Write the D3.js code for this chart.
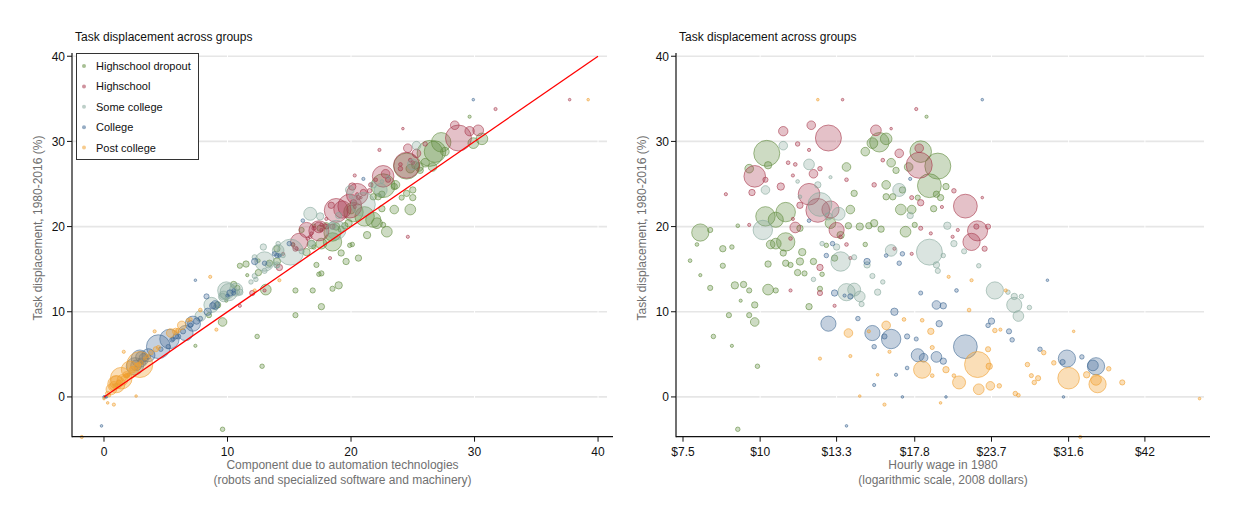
<!DOCTYPE html>
<html>
<head>
<meta charset="utf-8">
<script src="https://cdn.jsdelivr.net/npm/d3@7"></script>
<style>
  body { margin: 0; background: #fff; }
  svg { display: block; }
  text { font-family: "Liberation Sans", Arial, Helvetica, sans-serif; }
</style>
</head>
<body>
<svg id="chart" width="1233" height="514"></svg>
<script>
// ---- data -------------------------------------------------------------
const groupNames = ["Highschool dropout", "Highschool", "Some college", "College", "Post college"];
const groupColors = ["#5f8a3c", "#a8384c", "#86a89b", "#3f6894", "#f0a030"];

const yTicks = [0, 10, 20, 30, 40];
const autoTicks = [0, 10, 20, 30, 40];
const wageTicks = [7.5, 10, 13.3, 17.8, 23.7, 31.6, 42];
const wageTickLabels = ["$7.5", "$10", "$13.3", "$17.8", "$23.7", "$31.6", "$42"];

// rows: [task displacement 1980-2016 (%), automation component, 1980 hourly wage ($2008), employment weight]
const dropout = [
  [28.6, 26.4, 10.25, 100], [29.9, 27.3, 15.6, 56], [30.3, 30.6, 16.0, 20], [29.8, 29.9, 15.2, 17],
  [28.8, 26.8, 18.2, 69], [27.1, 24.5, 19.4, 100], [24.8, 22.6, 18.8, 84], [21.2, 21.1, 10.2, 56],
  [21.7, 20.2, 11.0, 56], [20.8, 21.8, 10.6, 34], [19.3, 18.5, 8.0, 44], [18.2, 18.5, 11.0, 50],
  [18.0, 17.6, 10.6, 17], [12.6, 13.1, 10.3, 17], [8.8, 9.6, 9.8, 11], [27.2, 25.2, 10.3, 8],
  [26.8, 24.8, 9.6, 11], [27.0, 25.5, 13.8, 11], [28.8, 27.6, 14.8, 11], [27.5, 26.0, 16.3, 11],
  [24.9, 23.6, 16.0, 11], [23.5, 22.2, 16.0, 6], [23.5, 21.8, 16.4, 6], [22.0, 20.0, 14.0, 11],
  [20.0, 18.8, 14.5, 8], [20.1, 19.5, 15.0, 6], [20.1, 18.0, 13.9, 6], [17.0, 16.4, 11.7, 8],
  [15.9, 14.0, 11.6, 8], [14.6, 12.5, 11.5, 6], [15.7, 13.4, 11.0, 6], [15.6, 11.5, 10.3, 6],
  [17.4, 14.0, 8.7, 6], [19.6, 16.0, 8.3, 4], [13.2, 10.5, 9.4, 6], [10.8, 9.2, 9.8, 6],
  [9.6, 8.5, 9.6, 4], [15.4, 11.0, 8.7, 4], [17.9, 15.3, 7.9, 2], [17.9, 16.8, 10.4, 11],
  [19.8, 17.5, 11.6, 6], [-3.8, 9.6, 9.2, 3], [3.6, 12.8, 9.9, 3], [10.6, 17.6, 12.0, 6],
  [13.1, 19.0, 9.1, 8], [12.7, 18.5, 12.5, 4], [16.3, 20.6, 13.2, 6], [19.4, 22.9, 17.2, 17],
  [22.0, 23.5, 17.6, 11], [22.0, 24.8, 16.9, 17], [23.4, 25.0, 19.6, 6], [32.9, 29.6, 18.6, 1.5],
  [20.4, 19.8, 15.3, 8], [19.7, 19.2, 15.7, 6], [24.7, 23.5, 20.0, 6], [23.8, 22.5, 19.3, 6],
  [22.1, 22.5, 19.1, 6], [20.2, 22.6, 17.8, 4], [23.4, 24.1, 18.0, 4], [23.9, 24.5, 14.2, 6],
  [15.9, 19.6, 12.2, 6], [14.5, 17.6, 11.8, 4], [15.5, 17.2, 11.2, 4], [12.5, 16.9, 9.6, 4],
  [12.5, 15.5, 10.6, 4], [20.4, 22.1, 13.0, 17], [19.0, 21.3, 13.5, 8], [17.8, 19.9, 12.8, 3],
  [17.9, 20.1, 14.8, 3], [16.9, 19.2, 10.9, 6], [17.6, 17.0, 9.0, 3], [9.6, 15.5, 8.9, 4],
  [14.4, 17.4, 12.6, 3], [7.1, 12.4, 8.4, 3], [6.0, 7.4, 9.0, 1.5], [24.3, 25.0, 17.0, 6],
  [26.6, 25.6, 16.6, 6], [27.0, 26.6, 17.4, 11], [16.0, 12.5, 7.7, 2], [12.8, 10.8, 8.3, 4],
  [14.3, 11.6, 8.0, 1.5], [11.3, 9.9, 9.3, 1.5], [20.1, 17.0, 9.2, 2]
];

const highschool = [
  [30.4, 28.7, 12.9, 100], [25.9, 22.6, 9.8, 69], [23.8, 20.5, 12.0, 69], [21.9, 18.8, 12.4, 84],
  [22.0, 19.3, 13.0, 44], [27.2, 24.5, 18.1, 100], [22.4, 19.9, 21.5, 84], [19.6, 16.4, 13.3, 34],
  [19.5, 17.4, 22.5, 60], [18.2, 15.8, 22.0, 44], [26.2, 22.8, 12.2, 11], [31.9, 28.4, 12.1, 11],
  [31.2, 29.6, 10.9, 13], [31.3, 30.3, 15.4, 17], [29.2, 24.6, 18.1, 11], [24.7, 20.1, 10.8, 8],
  [22.5, 18.4, 11.6, 6], [19.9, 17.4, 11.4, 17], [31.5, 24.2, 16.3, 1], [29.0, 22.3, 12.0, 1.5],
  [26.0, 20.3, 11.3, 1.5], [16.3, 18.3, 14.0, 1.5], [18.8, 24.6, 20.5, 1.5], [33.8, 31.7, 17.9, 1.5],
  [34.9, 37.7, 13.6, 1], [24.0, 21.0, 9.7, 6], [23.8, 20.5, 8.8, 1.5], [29.7, 26.0, 11.5, 3],
  [27.5, 25.0, 11.1, 2], [26.8, 24.0, 12.5, 3], [25.5, 22.0, 13.8, 2], [24.9, 21.6, 15.3, 3],
  [28.6, 25.3, 16.8, 11], [15.2, 14.2, 12.5, 6], [12.2, 12.0, 12.5, 4], [18.6, 16.5, 11.2, 2],
  [24.2, 21.5, 20.6, 3], [20.0, 18.5, 22.4, 4], [20.0, 18.0, 23.4, 4], [17.4, 15.5, 23.1, 4],
  [23.4, 20.8, 22.9, 1], [27.8, 24.8, 15.8, 2], [23.4, 20.6, 17.6, 2.5], [22.8, 20.2, 18.2, 6],
  [22.3, 20.3, 19.7, 1.5], [19.8, 17.0, 18.2, 2.5], [19.2, 16.8, 18.9, 1.5], [19.6, 17.6, 20.9, 1.5],
  [12.5, 13.0, 11.2, 1.5], [10.7, 11.0, 13.2, 1.5], [16.8, 14.5, 17.6, 1.5], [17.4, 15.6, 16.5, 1.5],
  [17.9, 15.3, 13.8, 2], [25.5, 23.0, 10.2, 4], [20.2, 17.6, 9.6, 1.5], [27.3, 24.0, 11.4, 2],
  [20.9, 18.0, 11.3, 1.5], [18.8, 16.7, 13.5, 2]
];

const someCollege = [
  [17.0, 15.1, 18.8, 100], [15.9, 13.0, 13.5, 56], [22.6, 21.0, 12.5, 84], [19.6, 18.8, 10.1, 56],
  [12.3, 10.1, 13.8, 44], [12.6, 10.7, 14.2, 25], [11.8, 9.7, 14.5, 17], [12.5, 9.9, 24.0, 44],
  [10.8, 8.7, 25.8, 34], [9.5, 7.8, 26.2, 17], [27.3, 25.0, 12.0, 17], [24.3, 19.9, 10.2, 11],
  [24.9, 21.8, 12.4, 6], [21.5, 16.7, 13.4, 25], [21.3, 19.0, 17.5, 6], [15.5, 14.0, 19.3, 6],
  [24.3, 22.4, 16.8, 25], [20.1, 18.5, 20.1, 8], [18.0, 16.8, 20.6, 6], [17.1, 16.0, 21.4, 4],
  [15.4, 14.0, 22.6, 3], [14.8, 13.0, 19.4, 4], [16.6, 14.5, 19.8, 3], [17.6, 12.9, 13.3, 6],
  [15.5, 13.3, 14.9, 6], [14.2, 12.2, 15.2, 4], [12.3, 11.0, 15.5, 6], [13.5, 11.9, 15.8, 3],
  [10.9, 9.2, 14.6, 4], [13.8, 12.3, 12.2, 3], [12.3, 10.8, 25.2, 3], [11.8, 10.0, 26.5, 3],
  [10.5, 9.0, 27.3, 3], [11.8, 9.6, 25.8, 6], [17.2, 14.1, 16.3, 20], [29.5, 25.3, 10.9, 11],
  [16.4, 12.2, 14.2, 4], [18.0, 14.1, 12.6, 3], [25.3, 22.5, 11.5, 2], [25.8, 23.0, 13.0, 1.5],
  [23.5, 20.0, 11.6, 2], [21.2, 17.5, 12.9, 8]
];

const college = [
  [8.6, 7.2, 12.9, 34], [7.5, 6.6, 15.2, 34], [6.8, 5.3, 16.3, 56], [5.9, 4.4, 21.5, 84],
  [4.9, 3.6, 18.0, 25], [4.7, 3.0, 19.3, 17], [4.5, 2.9, 31.4, 44], [3.6, 2.5, 35.0, 44],
  [3.7, 2.6, 34.6, 17], [4.6, 3.2, 18.4, 11], [10.0, 8.4, 16.5, 8], [9.2, 7.8, 14.4, 3],
  [5.9, 5.2, 15.3, 3], [7.1, 6.0, 15.9, 4], [12.2, 10.2, 13.2, 6], [11.9, 10.0, 13.7, 1.5],
  [15.9, 12.2, 14.9, 6], [18.0, 15.0, 13.1, 3], [16.6, 14.0, 12.8, 3], [16.6, 14.2, 16.0, 2],
  [16.8, 13.8, 17.0, 3], [12.2, 10.5, 18.2, 2.5], [10.8, 9.0, 19.3, 11], [6.8, 5.6, 17.9, 2.5],
  [2.6, 2.0, 16.6, 1.5], [1.4, 1.0, 15.3, 1.5], [3.4, 2.6, 17.3, 2], [10.7, 8.8, 19.8, 6],
  [8.6, 7.0, 19.5, 6], [4.2, 3.0, 19.8, 6], [8.9, 7.5, 23.7, 6], [8.4, 7.0, 23.4, 3],
  [7.7, 6.4, 25.3, 4], [6.7, 5.5, 25.6, 3], [5.6, 4.6, 28.4, 3], [4.1, 3.2, 30.9, 4],
  [4.7, 3.6, 33.2, 3], [7.1, 5.8, 17.3, 4], [13.7, 7.4, 29.2, 1], [12.5, 10.5, 20.8, 2],
  [0.0, 0.0, 17.0, 1], [0.0, 0.2, 20.0, 1], [0.0, 0.1, 31.0, 1], [34.9, 29.9, 22.9, 1],
  [20.7, 16.1, 12.0, 2], [25.6, 21.0, 17.5, 1.5], [11.8, 8.3, 14.0, 4], [15.7, 13.0, 16.8, 3],
  [-3.4, -0.2, 13.8, 1]
];

const postCollege = [
  [3.8, 2.9, 22.5, 100], [2.2, 1.4, 31.6, 69], [1.5, 1.0, 35.2, 44], [2.0, 1.5, 35.0, 17],
  [3.2, 2.1, 18.3, 44], [1.7, 1.0, 21.0, 25], [0.9, 0.6, 22.6, 17], [1.3, 0.8, 23.6, 11],
  [1.3, 0.9, 24.4, 3], [3.6, 2.7, 23.5, 6], [7.5, 5.4, 13.9, 11], [8.4, 6.3, 16.0, 11],
  [2.6, 1.8, 33.8, 6], [3.3, 2.3, 36.7, 3], [1.7, 1.2, 38.6, 4], [3.2, 2.3, 20.0, 6],
  [0.4, 0.3, 25.9, 3], [0.2, 0.4, 26.2, 2], [5.2, 3.8, 28.8, 3], [4.0, 3.0, 29.9, 3],
  [2.5, 1.8, 27.5, 2.5], [2.2, 1.6, 28.2, 4], [1.7, 1.2, 27.8, 3], [3.8, 2.8, 27.1, 3],
  [7.7, 5.8, 32.2, 1], [5.6, 4.2, 23.4, 4], [7.8, 6.0, 24.0, 3], [10.2, 7.8, 21.8, 2],
  [7.7, 5.8, 18.9, 6], [5.8, 4.4, 19.0, 2.5], [2.5, 1.8, 19.0, 2], [9.1, 7.0, 17.1, 2],
  [2.5, 1.9, 20.6, 2], [9.0, 6.8, 18.3, 2], [4.5, 3.3, 12.5, 1.5], [4.8, 3.5, 14.0, 1.5],
  [2.6, 2.0, 15.5, 1], [34.9, 39.2, 12.4, 1], [-4.7, -1.8, 33.0, 1.5], [0.1, 2.6, 14.5, 1],
  [-0.9, 0.8, 15.9, 1.5], [-0.7, 0.3, 19.6, 1], [14.1, 8.6, 20.2, 1.5], [7.9, 9.1, 24.5, 1.5],
  [5.3, 1.6, 16.2, 1.5], [12.5, 12.2, 25.0, 1.5], [13.7, 14.2, 22.0, 1.5], [-0.2, 0.0, 51.5, 1],
  [7.7, 4.1, 15.0, 1.5]
];

const groupRows = [dropout, highschool, someCollege, college, postCollege];

// ---- layout -----------------------------------------------------------
const svg = d3.select("#chart");
const plotTop = 53, plotBottom = 436.7;

const y = d3.scaleLinear().domain([-4.67, 40.38]).range([plotBottom, plotTop]);
const r = d3.scaleSqrt().domain([0, 100]).range([0, 13]);

const panels = [
  {
    left: 72, right: 613,
    x: d3.scaleLinear().domain([-2.59, 41.21]).range([72, 613]),
    col: 1, ticks: autoTicks, tickLabels: autoTicks.map(String),
    xTitle: ["Component due to automation technologies", "(robots and specialized software and machinery)"],
    titleX: 75, yTitleX: 42, refLine: true
  },
  {
    left: 676, right: 1210,
    x: d3.scaleLog().domain([Math.pow(10, 0.8637), Math.pow(10, 1.7287)]).range([676, 1210]),
    col: 2, ticks: wageTicks, tickLabels: wageTickLabels,
    xTitle: ["Hourly wage in 1980", "(logarithmic scale, 2008 dollars)"],
    titleX: 679, yTitleX: 646, refLine: false
  }
];

panels.forEach(p => {
  const g = svg.append("g");

  // horizontal gridlines
  g.selectAll(".grid").data(yTicks).join("line")
    .attr("x1", p.left + 1).attr("x2", p.right - 6)
    .attr("y1", d => y(d)).attr("y2", d => y(d))
    .attr("stroke", "#e6e6e6").attr("stroke-width", 1.6);

  // small breaks in the gridlines at x tick positions
  g.selectAll(".gap").data(p.ticks.slice(1)).join("rect")
    .attr("x", d => p.x(d) - 0.5).attr("width", 1)
    .attr("y", plotTop).attr("height", plotBottom - plotTop - 1)
    .attr("fill", "#fff");

  // bubbles, one layer per education group
  groupRows.forEach((rows, gi) => {
    const sorted = rows.slice().sort((a, b) => b[3] - a[3]);
    g.append("g").selectAll("circle").data(sorted).join("circle")
      .attr("cx", d => p.x(d[p.col]))
      .attr("cy", d => y(d[0]))
      .attr("r", d => r(d[3]))
      .attr("fill", groupColors[gi]).attr("fill-opacity", gi === 4 ? 0.35 : 0.31)
      .attr("stroke", groupColors[gi]).attr("stroke-opacity", 0.65).attr("stroke-width", 0.9);
  });

  // 45-degree reference line
  if (p.refLine) {
    g.append("line")
      .attr("x1", p.x(0)).attr("y1", y(0))
      .attr("x2", p.x(40)).attr("y2", y(40))
      .attr("stroke", "#ff0000").attr("stroke-width", 1.3);
  }

  // axes
  g.append("line").attr("x1", p.left).attr("x2", p.left).attr("y1", plotTop).attr("y2", plotBottom + 0.5)
    .attr("stroke", "#111").attr("stroke-width", 1.2);
  g.append("line").attr("x1", p.left).attr("x2", p.right).attr("y1", plotBottom).attr("y2", plotBottom)
    .attr("stroke", "#111").attr("stroke-width", 1.2);

  g.selectAll(".yt").data(yTicks).join("line")
    .attr("x1", p.left - 5).attr("x2", p.left).attr("y1", d => y(d)).attr("y2", d => y(d))
    .attr("stroke", "#111");
  g.selectAll(".yl").data(yTicks).join("text")
    .attr("x", p.left - 7).attr("y", d => y(d)).attr("dy", "0.36em")
    .attr("text-anchor", "end").attr("font-size", 12).attr("fill", "#111")
    .text(d => d);

  g.selectAll(".xt").data(p.ticks).join("line")
    .attr("x1", d => p.x(d)).attr("x2", d => p.x(d)).attr("y1", plotBottom).attr("y2", plotBottom + 5)
    .attr("stroke", "#111");
  g.selectAll(".xl").data(p.ticks).join("text")
    .attr("x", d => p.x(d)).attr("y", plotBottom + 19)
    .attr("text-anchor", "middle").attr("font-size", 12).attr("fill", "#111")
    .text((d, i) => p.tickLabels[i]);

  // axis titles
  const cx = (p.left + p.right) / 2;
  p.xTitle.forEach((t, i) => {
    g.append("text").attr("x", cx).attr("y", 469 + i * 15)
      .attr("text-anchor", "middle").attr("font-size", 12).attr("fill", "#707070").text(t);
  });
  g.append("text")
    .attr("transform", `translate(${p.yTitleX},228) rotate(-90)`)
    .attr("text-anchor", "middle").attr("font-size", 12).attr("fill", "#707070")
    .text("Task displacement, 1980-2016 (%)");

  // panel title
  g.append("text").attr("x", p.titleX).attr("y", 40.5)
    .attr("font-size", 12).attr("fill", "#111").text("Task displacement across groups");
});

// legend
const lg = svg.append("g");
lg.append("rect").attr("x", 76.5).attr("y", 53.5).attr("width", 122).attr("height", 106)
  .attr("fill", "#fff").attr("stroke", "#333").attr("stroke-width", 1);
groupNames.forEach((name, i) => {
  const yy = 66 + i * 20.4;
  lg.append("circle").attr("cx", 84).attr("cy", yy).attr("r", 2)
    .attr("fill", groupColors[i]).attr("fill-opacity", 0.55);
  lg.append("text").attr("x", 96).attr("y", yy).attr("dy", "0.36em")
    .attr("font-size", 11).attr("fill", "#111").text(name);
});
</script>
</body>
</html>
